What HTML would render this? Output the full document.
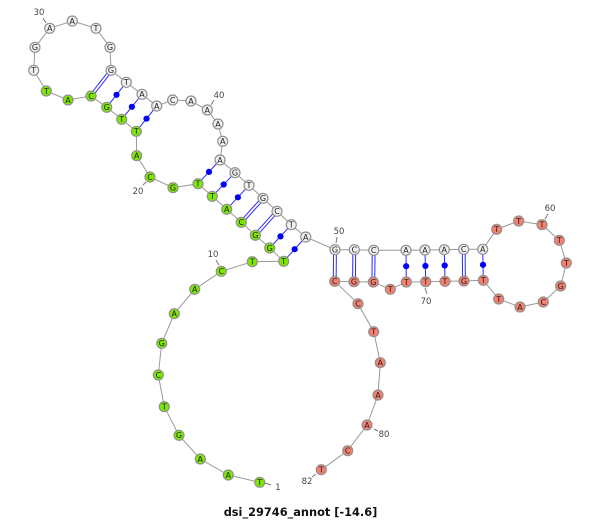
<!DOCTYPE html>
<html>
<head>
<meta charset="utf-8">
<style>
html,body{margin:0;padding:0;background:#fff;width:600px;height:521px;overflow:hidden}
svg{display:block}
.n circle{stroke:#909090;stroke-width:1.2;r:5px}
.w circle{fill:#f0f0f0}
.g circle{fill:#7fe800}
.r circle{fill:#f58070}
.n text{font:8px "DejaVu Sans",sans-serif;fill:#222;text-anchor:middle}
.l{font:8.5px "DejaVu Sans",sans-serif;fill:#444;text-anchor:middle}
.t{font:bold 11.35px "DejaVu Sans",sans-serif;fill:#111;text-anchor:middle}
</style>
</head>
<body>
<svg width="600" height="521" viewBox="0 0 600 521" xmlns="http://www.w3.org/2000/svg">
<polyline fill="none" stroke="#999" stroke-width="1" points="259.7,482.3 228.3,475 200.3,459 179,435.3 164.3,406.7 158.3,375 161.7,343.3 174.3,313.7 194.7,289.3 221.3,271.3 252.3,261.7 283.7,261.3 269.7,248 255.3,235.3 241.3,222.3 226.7,209.3 212.3,196.3 198,183.7 173,187.7 150,177 136.7,155.7 136.3,131.3 121.7,119.3 106.7,107.3 91,96 68,100 46.3,91 33.7,70.3 35,47.3 49.7,28.3 72.3,21 96,28.3 110,47.3 111,70.3 126.3,82.3 142,94.3 156.7,106 172.7,100 191,101 207.3,110 218,124 222.7,141.3 220,160 235,172.7 249,185.3 263,198.3 277,211.3 291.3,224.7 305.7,237 335,249.7 354.3,249.7 373.7,250.3 406,250.3 425,250 444.3,249.7 463.7,249.3 482.7,249.3 496.7,229.3 518.7,221 542,224.7 559.3,240.3 566.3,263 560.7,286 543.3,302 520,307 498.7,299 483.3,280.3 464,281 445,281.3 425.7,281.7 406.3,282 390.3,289.3 373.3,282 354,281.7 334.7,281.3 358,303.7 373.7,331.7 380.3,362.7 378,395 367,425 347.7,450.7 321.3,469.7"/>
<g stroke="#777" stroke-width="1">
<line x1="265" y1="483" x2="271" y2="485"/><line x1="216" y1="260" x2="219" y2="265"/><line x1="146" y1="182" x2="143" y2="185"/><line x1="43" y1="18" x2="46" y2="23"/><line x1="214" y1="100" x2="211" y2="105"/><line x1="337" y1="237" x2="336" y2="243"/><line x1="548" y1="214" x2="545" y2="219"/><line x1="425" y1="288" x2="427" y2="294"/><line x1="374" y1="429" x2="378" y2="431"/><line x1="316" y1="474" x2="312" y2="477"/>
</g>
<g stroke="#2a2aff" stroke-width="1">
<line x1="156.7" y1="106" x2="136.3" y2="131.3"/><line x1="142" y1="94.3" x2="121.7" y2="119.3"/><line x1="126.3" y1="82.3" x2="106.7" y2="107.3"/>
<line x1="220" y1="160" x2="198" y2="183.7"/><line x1="235" y1="172.7" x2="212.3" y2="196.3"/><line x1="249" y1="185.3" x2="226.7" y2="209.3"/>
<line x1="291.3" y1="224.7" x2="269.7" y2="248"/><line x1="305.7" y1="237" x2="283.7" y2="261.3"/>
<line x1="406" y1="250.3" x2="406.3" y2="282"/><line x1="425" y1="250" x2="425.7" y2="281.7"/><line x1="444.3" y1="249.7" x2="445" y2="281.3"/><line x1="482.7" y1="249.3" x2="483.3" y2="280.3"/>
<line x1="110" y1="69.3" x2="90" y2="95"/><line x1="112" y1="71.3" x2="92" y2="97"/>
<line x1="262" y1="197.3" x2="240.3" y2="221.3"/><line x1="264" y1="199.3" x2="242.3" y2="223.3"/>
<line x1="276" y1="210.3" x2="254.3" y2="234.3"/><line x1="278" y1="212.3" x2="256.3" y2="236.3"/>
<line x1="333.6" y1="249.7" x2="333.3" y2="281.3"/><line x1="336.4" y1="249.7" x2="336.1" y2="281.3"/>
<line x1="352.9" y1="249.7" x2="352.6" y2="281.7"/><line x1="355.7" y1="249.7" x2="355.4" y2="281.7"/>
<line x1="372.3" y1="250.3" x2="371.9" y2="282"/><line x1="375.1" y1="250.3" x2="374.7" y2="282"/>
<line x1="462.3" y1="249.3" x2="462.6" y2="281"/><line x1="465.1" y1="249.3" x2="465.4" y2="281"/>
</g>
<g fill="#0000f5">
<circle cx="146.5" cy="118.7" r="3.1"/><circle cx="131.9" cy="106.8" r="3.1"/><circle cx="116.5" cy="94.8" r="3.1"/>
<circle cx="209" cy="171.9" r="3.1"/><circle cx="223.7" cy="184.5" r="3.1"/><circle cx="237.9" cy="197.3" r="3.1"/>
<circle cx="280.5" cy="236.4" r="3.1"/><circle cx="294.7" cy="249.2" r="3.1"/>
<circle cx="406.2" cy="266.2" r="3.1"/><circle cx="425.4" cy="265.9" r="3.1"/><circle cx="444.7" cy="265.5" r="3.1"/><circle cx="483" cy="264.8" r="3.1"/>
</g>
<g class="n g">
<circle cx="259.7" cy="482.3" r="5"/><text x="259.7" y="485.2">T</text>
<circle cx="228.3" cy="475" r="5"/><text x="228.3" y="477.9">A</text>
<circle cx="200.3" cy="459" r="5"/><text x="200.3" y="461.9">A</text>
<circle cx="179" cy="435.3" r="5"/><text x="179" y="438.2">G</text>
<circle cx="164.3" cy="406.7" r="5"/><text x="164.3" y="409.6">T</text>
<circle cx="158.3" cy="375" r="5"/><text x="158.3" y="377.9">C</text>
<circle cx="161.7" cy="343.3" r="5"/><text x="161.7" y="346.2">G</text>
<circle cx="174.3" cy="313.7" r="5"/><text x="174.3" y="316.6">A</text>
<circle cx="194.7" cy="289.3" r="5"/><text x="194.7" y="292.2">A</text>
<circle cx="221.3" cy="271.3" r="5"/><text x="221.3" y="274.2">C</text>
<circle cx="252.3" cy="261.7" r="5"/><text x="252.3" y="264.6">T</text>
<circle cx="283.7" cy="261.3" r="5"/><text x="283.7" y="264.2">T</text>
<circle cx="269.7" cy="248" r="5"/><text x="269.7" y="250.9">G</text>
<circle cx="255.3" cy="235.3" r="5"/><text x="255.3" y="238.2">G</text>
<circle cx="241.3" cy="222.3" r="5"/><text x="241.3" y="225.2">C</text>
<circle cx="226.7" cy="209.3" r="5"/><text x="226.7" y="212.2">A</text>
<circle cx="212.3" cy="196.3" r="5"/><text x="212.3" y="199.2">T</text>
<circle cx="198" cy="183.7" r="5"/><text x="198" y="186.6">T</text>
<circle cx="173" cy="187.7" r="5"/><text x="173" y="190.6">G</text>
<circle cx="150" cy="177" r="5"/><text x="150" y="179.9">C</text>
<circle cx="136.7" cy="155.7" r="5"/><text x="136.7" y="158.6">A</text>
<circle cx="136.3" cy="131.3" r="5"/><text x="136.3" y="134.2">T</text>
<circle cx="121.7" cy="119.3" r="5"/><text x="121.7" y="122.2">T</text>
<circle cx="106.7" cy="107.3" r="5"/><text x="106.7" y="110.2">G</text>
<circle cx="91" cy="96" r="5"/><text x="91" y="98.9">C</text>
<circle cx="68" cy="100" r="5"/><text x="68" y="102.9">A</text>
<circle cx="46.3" cy="91" r="5"/><text x="46.3" y="93.9">T</text>
</g>
<g class="n w">
<circle cx="33.7" cy="70.3" r="5"/><text x="33.7" y="73.2">T</text>
<circle cx="35" cy="47.3" r="5"/><text x="35" y="50.2">G</text>
<circle cx="49.7" cy="28.3" r="5"/><text x="49.7" y="31.2">A</text>
<circle cx="72.3" cy="21" r="5"/><text x="72.3" y="23.9">A</text>
<circle cx="96" cy="28.3" r="5"/><text x="96" y="31.2">T</text>
<circle cx="110" cy="47.3" r="5"/><text x="110" y="50.2">G</text>
<circle cx="111" cy="70.3" r="5"/><text x="111" y="73.2">G</text>
<circle cx="126.3" cy="82.3" r="5"/><text x="126.3" y="85.2">T</text>
<circle cx="142" cy="94.3" r="5"/><text x="142" y="97.2">A</text>
<circle cx="156.7" cy="106" r="5"/><text x="156.7" y="108.9">A</text>
<circle cx="172.7" cy="100" r="5"/><text x="172.7" y="102.9">C</text>
<circle cx="191" cy="101" r="5"/><text x="191" y="103.9">A</text>
<circle cx="207.3" cy="110" r="5"/><text x="207.3" y="112.9">A</text>
<circle cx="218" cy="124" r="5"/><text x="218" y="126.9">A</text>
<circle cx="222.7" cy="141.3" r="5"/><text x="222.7" y="144.2">A</text>
<circle cx="220" cy="160" r="5"/><text x="220" y="162.9">A</text>
<circle cx="235" cy="172.7" r="5"/><text x="235" y="175.6">G</text>
<circle cx="249" cy="185.3" r="5"/><text x="249" y="188.2">T</text>
<circle cx="263" cy="198.3" r="5"/><text x="263" y="201.2">G</text>
<circle cx="277" cy="211.3" r="5"/><text x="277" y="214.2">C</text>
<circle cx="291.3" cy="224.7" r="5"/><text x="291.3" y="227.6">T</text>
<circle cx="305.7" cy="237" r="5"/><text x="305.7" y="239.9">A</text>
<circle cx="335" cy="249.7" r="5"/><text x="335" y="252.6">G</text>
<circle cx="354.3" cy="249.7" r="5"/><text x="354.3" y="252.6">C</text>
<circle cx="373.7" cy="250.3" r="5"/><text x="373.7" y="253.2">C</text>
<circle cx="406" cy="250.3" r="5"/><text x="406" y="253.2">A</text>
<circle cx="425" cy="250" r="5"/><text x="425" y="252.9">A</text>
<circle cx="444.3" cy="249.7" r="5"/><text x="444.3" y="252.6">A</text>
<circle cx="463.7" cy="249.3" r="5"/><text x="463.7" y="252.2">C</text>
<circle cx="482.7" cy="249.3" r="5"/><text x="482.7" y="252.2">A</text>
</g>
<g class="n r">
<circle cx="496.7" cy="229.3" r="5"/><text x="496.7" y="232.2">T</text>
<circle cx="518.7" cy="221" r="5"/><text x="518.7" y="223.9">T</text>
<circle cx="542" cy="224.7" r="5"/><text x="542" y="227.6">T</text>
<circle cx="559.3" cy="240.3" r="5"/><text x="559.3" y="243.2">T</text>
<circle cx="566.3" cy="263" r="5"/><text x="566.3" y="265.9">T</text>
<circle cx="560.7" cy="286" r="5"/><text x="560.7" y="288.9">G</text>
<circle cx="543.3" cy="302" r="5"/><text x="543.3" y="304.9">C</text>
<circle cx="520" cy="307" r="5"/><text x="520" y="309.9">A</text>
<circle cx="498.7" cy="299" r="5"/><text x="498.7" y="301.9">T</text>
<circle cx="483.3" cy="280.3" r="5"/><text x="483.3" y="283.2">T</text>
<circle cx="464" cy="281" r="5"/><text x="464" y="283.9">G</text>
<circle cx="445" cy="281.3" r="5"/><text x="445" y="284.2">T</text>
<circle cx="425.7" cy="281.7" r="5"/><text x="425.7" y="284.6">T</text>
<circle cx="406.3" cy="282" r="5"/><text x="406.3" y="284.9">T</text>
<circle cx="390.3" cy="289.3" r="5"/><text x="390.3" y="292.2">T</text>
<circle cx="373.3" cy="282" r="5"/><text x="373.3" y="284.9">G</text>
<circle cx="354" cy="281.7" r="5"/><text x="354" y="284.6">G</text>
<circle cx="334.7" cy="281.3" r="5"/><text x="334.7" y="284.2">C</text>
<circle cx="358" cy="303.7" r="5"/><text x="358" y="306.6">C</text>
<circle cx="373.7" cy="331.7" r="5"/><text x="373.7" y="334.6">T</text>
<circle cx="380.3" cy="362.7" r="5"/><text x="380.3" y="365.6">A</text>
<circle cx="378" cy="395" r="5"/><text x="378" y="397.9">A</text>
<circle cx="367" cy="425" r="5"/><text x="367" y="427.9">A</text>
<circle cx="347.7" cy="450.7" r="5"/><text x="347.7" y="453.6">C</text>
<circle cx="321.3" cy="469.7" r="5"/><text x="321.3" y="472.6">T</text>
</g>
<text class="l" x="278" y="490">1</text>
<text class="l" x="213" y="257">10</text>
<text class="l" x="138" y="194">20</text>
<text class="l" x="39" y="15">30</text>
<text class="l" x="219" y="98">40</text>
<text class="l" x="339" y="234">50</text>
<text class="l" x="550" y="211">60</text>
<text class="l" x="426" y="304">70</text>
<text class="l" x="384" y="437">80</text>
<text class="l" x="307" y="484">82</text>
<text class="t" x="300.5" y="516">dsi_29746_annot [-14.6]</text>
</svg>
</body>
</html>
